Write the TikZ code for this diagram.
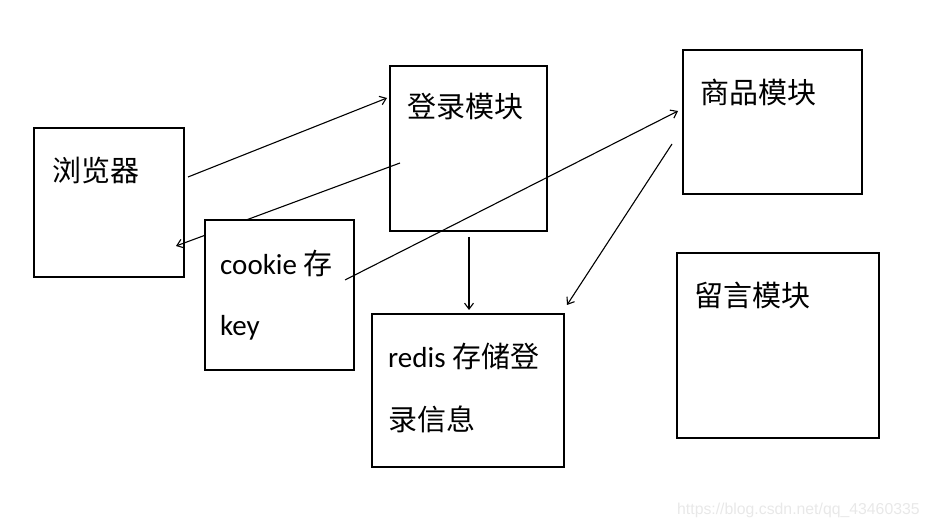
\documentclass[tikz,border=0pt]{standalone}
\usepackage{fontspec}
\setmainfont{Carlito}
\newfontfamily\cjk{Noto Sans CJK SC}
\newfontfamily\wm{Liberation Sans}
\usetikzlibrary{arrows.meta}
\begin{document}
\begin{tikzpicture}[x=1pt,y=-1pt,
  box/.style={draw=black,line width=1.3pt,fill=white},
  lbl/.style={anchor=west,inner sep=0pt,font=\fontsize{29}{32}\selectfont},
  conn/.style={line width=1.1pt,-{Straight Barb[length=6pt,width=9pt]}}]
\useasboundingbox (0,0) rectangle (930,529);
% boxes
\node[box,minimum width=150pt,minimum height=149pt,inner sep=0pt] (browser) at (109,202.5) {};
\node[box,minimum width=157pt,minimum height=165pt,inner sep=0pt] (login) at (468.5,148.5) {};
% connector passing under the cookie box
\coordinate (a2s) at (400,163);
\coordinate (a2e) at (176,246);
\draw[conn] (a2s) -- (a2e);
\node[box,minimum width=149pt,minimum height=150pt,inner sep=0pt] (cookie) at (279.5,295) {};
\node[box,minimum width=192pt,minimum height=153pt,inner sep=0pt] (redis) at (468,390.5) {};
\node[box,minimum width=179pt,minimum height=144pt,inner sep=0pt] (goods) at (772.5,122) {};
\node[box,minimum width=202pt,minimum height=185pt,inner sep=0pt] (msg) at (778,345.5) {};
% texts
\node[lbl] (tb) at (52,170) {\cjk 浏览器};
\node[lbl] (tl) at (407,107) {\cjk 登录模块};
\node[lbl] (tg) at (700,92) {\cjk 商品模块};
\node[lbl] (tm) at (694,295) {\cjk 留言模块};
\node[lbl] (tc1) at (220,263) {cookie {\cjk 存}};
\node[lbl] (tc2) at (220,328) {key};
\node[lbl] (tr1) at (388,356) {redis {\cjk 存储登}};
\node[lbl] (tr2) at (388,419) {\cjk 录信息};
% other connectors
\coordinate (a1s) at (188,177);
\coordinate (a1e) at (387,98);
\draw[conn] (a1s) -- (a1e);
\coordinate (a3s) at (345,280);
\coordinate (a3e) at (678,111);
\draw[conn] (a3s) -- (a3e);
\coordinate (a4s) at (469,237);
\coordinate (a4e) at (469,310);
\draw[conn] (a4s) -- (a4e);
\coordinate (a5s) at (672,144);
\coordinate (a5e) at (567,305);
\draw[conn] (a5s) -- (a5e);
% watermark
\node[anchor=west,inner sep=0pt,text=black!9,font=\wm\fontsize{15.8}{18}\selectfont] (wmk) at (677,510) {https://blog.csdn.net/qq\_43460335};
\end{tikzpicture}
\end{document}
